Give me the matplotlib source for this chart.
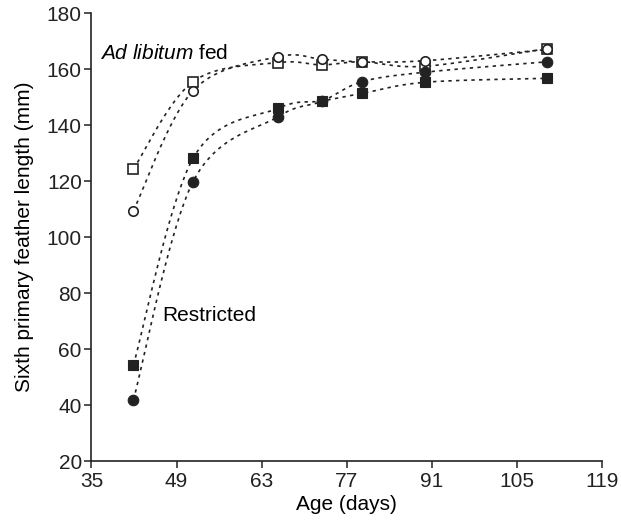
import numpy as np
import matplotlib
matplotlib.use("Agg")
import matplotlib.pyplot as plt

plt.rcParams['font.family'] = ['Liberation Sans', 'DejaVu Sans']
plt.rcParams['mathtext.fontset'] = 'custom'
plt.rcParams['mathtext.it'] = 'Liberation Sans:italic'
plt.rcParams['mathtext.rm'] = 'Liberation Sans'

# Age at each measurement (days)
age = [41.9, 51.7, 65.7, 72.9, 79.5, 89.9, 109.9]

# Sixth primary feather length (mm)
adlib_square = [124.3, 155.5, 162.3, 161.5, 162.6, 161.0, 167.3]
adlib_circle = [109.4, 152.3, 164.4, 163.5, 162.6, 163.0, 167.0]
restr_square = [54.3, 128.1, 146.0, 148.6, 151.3, 155.3, 156.7]
restr_circle = [41.8, 119.8, 143.0, 148.5, 155.5, 158.9, 162.6]

xticks = [35, 49, 63, 77, 91, 105, 119]
yticks = [20, 40, 60, 80, 100, 120, 140, 160, 180]

XSCALE, YSCALE = 6.08, 2.8  # pixels per day / per mm, used for smooth curves


def smooth(x, y, n=40):
    """Bezier smoothing through points (tangent from neighbours, 1/6 rule)."""
    p = np.column_stack([np.asarray(x) * XSCALE, np.asarray(y) * YSCALE])
    pts = []
    m = len(p)
    for i in range(m - 1):
        p0 = p[max(i - 1, 0)]
        p1 = p[i]
        p2 = p[i + 1]
        p3 = p[min(i + 2, m - 1)]
        c1 = p1 + (p2 - p0) / 6.0
        c2 = p2 - (p3 - p1) / 6.0
        t = np.linspace(0, 1, n)[:, None]
        seg = ((1 - t) ** 3) * p1 + 3 * ((1 - t) ** 2) * t * c1 + 3 * (1 - t) * t ** 2 * c2 + t ** 3 * p2
        pts.append(seg if i == 0 else seg[1:])
    pts = np.vstack(pts)
    return pts[:, 0] / XSCALE, pts[:, 1] / YSCALE


fig = plt.figure(figsize=(6.21, 5.23), dpi=100)
ax = fig.add_axes([0.1473, 0.1185, 0.8227, 0.8565])

line_kw = dict(color='#222222', lw=1.2, linestyle=(0, (2.0, 2.6)), zorder=1)
series = [
    (adlib_square, dict(marker='s', mfc='white', mec='#222222', ms=6.6, mew=1.2)),
    (adlib_circle, dict(marker='o', mfc='white', mec='#222222', ms=6.8, mew=1.2)),
    (restr_square, dict(marker='s', mfc='#222222', mec='#222222', ms=7.3, mew=0.8)),
    (restr_circle, dict(marker='o', mfc='#222222', mec='#222222', ms=7.6, mew=0.8)),
]
for vals, mk in series:
    sx, sy = smooth(age, vals)
    ax.plot(sx, sy, **line_kw)
for vals, mk in series:
    ax.plot(age, vals, linestyle='none', zorder=3, **mk)

ax.set_xlim(35, 119)
ax.set_ylim(20, 180)
ax.set_xticks(xticks)
ax.set_yticks(yticks)

for side in ('top', 'right'):
    ax.spines[side].set_visible(False)
for side in ('left', 'bottom'):
    ax.spines[side].set_linewidth(1.2)
    ax.spines[side].set_color('#222222')
ax.tick_params(direction='out', length=5, width=1.1, colors='#222222',
               labelsize=15)
ax.tick_params(axis='x', pad=3)
ax.tick_params(axis='y', pad=2)

ax.set_xlabel('Age (days)', fontsize=15, labelpad=3)
ax.set_ylabel('Sixth primary feather length (mm)', fontsize=15, labelpad=9)

ax.text(36.4, 165.7, r'$\it{Ad\ libitum}$ fed', fontsize=15, va='center', ha='left')
ax.text(46.7, 71.9, 'Restricted', fontsize=15, va='center', ha='left')

fig.savefig('out.png', dpi=100)
